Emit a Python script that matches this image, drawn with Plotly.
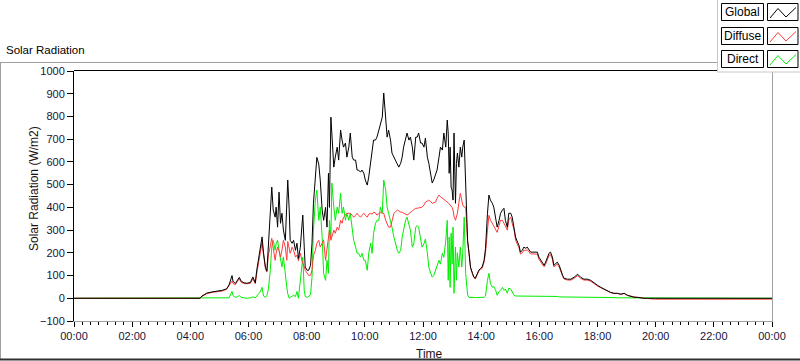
import plotly.graph_objects as go

# ---------------- data ----------------
time_min = [0, 260, 264, 274, 285, 298, 306, 315, 320, 326,
            328, 333, 337, 341, 345, 351, 357, 364, 369, 374,
            377, 381, 384, 388, 391, 395, 398, 401, 405, 408,
            411, 415, 417, 420, 423, 426, 429, 432, 436, 439,
            441, 444, 446, 450, 453, 457, 460, 463, 467, 470,
            472, 475, 477, 481, 484, 488, 491, 494, 498, 501,
            505, 508, 512, 515, 519, 522, 525, 527, 530, 532,
            536, 539, 543, 546, 550, 553, 556, 560, 563, 567,
            570, 574, 577, 581, 584, 587, 591, 594, 598, 601,
            605, 608, 612, 615, 618, 622, 625, 629, 632, 636,
            639, 643, 646, 649, 653, 656, 660, 663, 667, 670,
            674, 677, 680, 684, 687, 691, 694, 698, 701, 705,
            708, 711, 715, 718, 722, 725, 729, 732, 736, 739,
            742, 746, 749, 753, 756, 760, 763, 767, 770, 772,
            774, 776, 778, 780, 782, 784, 787, 789, 791, 794,
            797, 800, 802, 805, 808, 810, 812, 815, 818, 822,
            825, 828, 832, 835, 839, 842, 846, 849, 853, 856,
            859, 863, 866, 870, 873, 877, 880, 884, 887, 890,
            894, 897, 901, 904, 908, 911, 915, 918, 921, 925,
            928, 932, 935, 939, 942, 949, 956, 959, 963, 966,
            970, 973, 977, 980, 983, 987, 990, 994, 997, 1001,
            1004, 1008, 1011, 1018, 1025, 1032, 1039, 1045, 1052, 1059,
            1066, 1073, 1080, 1087, 1094, 1101, 1107, 1114, 1121, 1128,
            1135, 1142, 1149, 1156, 1163, 1176, 1200, 1440]

global_wm2 = [0, 0, 10, 23, 28, 32, 35, 42, 60, 100,
              75, 65, 80, 92, 75, 68, 66, 70, 94, 68,
              123, 180, 226, 270, 200, 135, 120, 220, 343, 489,
              388, 357, 401, 313, 467, 330, 374, 300, 255, 388,
              520, 388, 255, 242, 255, 211, 242, 175, 225, 313,
              366, 225, 137, 123, 123, 145, 242, 418, 564, 620,
              590, 520, 388, 343, 400, 313, 550, 400, 797, 709,
              577, 621, 665, 608, 740, 696, 665, 683, 621, 665,
              727, 621, 608, 608, 564, 564, 555, 564, 550, 520,
              498, 533, 608, 652, 696, 696, 709, 740, 771, 797,
              903, 790, 709, 740, 696, 639, 621, 608, 594, 577,
              594, 621, 665, 709, 727, 696, 709, 665, 608, 709,
              709, 727, 683, 683, 665, 705, 621, 594, 533, 507,
              520, 550, 564, 621, 665, 652, 727, 665, 784, 727,
              550, 665, 489, 476, 432, 727, 418, 594, 639, 577,
              665, 621, 665, 696, 476, 374, 255, 198, 137, 110,
              93, 88, 110, 123, 132, 137, 167, 220, 374, 454,
              432, 418, 401, 343, 313, 343, 374, 388, 396, 343,
              313, 374, 374, 357, 313, 269, 247, 233, 203, 211,
              225, 220, 225, 211, 203, 203, 203, 181, 167, 154,
              145, 159, 181, 198, 203, 181, 145, 154, 159, 145,
              123, 101, 88, 84, 84, 93, 106, 93, 84, 84,
              79, 66, 57, 48, 40, 35, 26, 22, 22, 18,
              22, 13, 9, 4, 4, 0, 0, 0]

diffuse_wm2 = [0, 0, 8, 20, 26, 30, 32, 40, 55, 76,
               65, 60, 74, 86, 70, 65, 64, 66, 86, 64,
               110, 160, 200, 245, 190, 130, 115, 190, 230, 264,
               220, 167, 198, 225, 210, 181, 211, 255, 225, 167,
               250, 225, 198, 225, 211, 181, 190, 165, 198, 167,
               150, 137, 123, 110, 101, 101, 123, 189, 211, 242,
               255, 225, 242, 255, 167, 225, 286, 300, 255, 269,
               300, 286, 313, 300, 343, 330, 357, 365, 374, 374,
               374, 365, 357, 365, 374, 365, 357, 365, 374, 365,
               357, 370, 374, 370, 379, 375, 366, 372, 379, 374,
               374, 343, 330, 313, 313, 343, 374, 380, 388, 385,
               379, 379, 374, 370, 366, 372, 379, 385, 390, 396,
               396, 398, 401, 401, 410, 423, 428, 432, 425, 418,
               420, 423, 440, 454, 447, 440, 435, 432, 425, 420,
               415, 410, 405, 400, 388, 360, 343, 360, 374, 420,
               462, 432, 410, 401, 401, 330, 250, 196, 135, 108,
               91, 86, 105, 118, 128, 132, 160, 200, 300, 365,
               345, 330, 320, 300, 290, 320, 343, 343, 330, 310,
               300, 345, 357, 330, 300, 255, 235, 222, 195, 200,
               212, 210, 214, 202, 195, 195, 194, 172, 158, 146,
               138, 150, 170, 188, 192, 172, 138, 146, 150, 138,
               118, 97, 85, 80, 80, 88, 100, 88, 80, 80,
               75, 63, 54, 46, 38, 33, 25, 21, 21, 17,
               21, 12, 9, 4, 4, 0, -4, -4]

direct_wm2 = [0, 0, 0, 0, 0, 0, 0, 0, 2, 30,
              12, 4, 6, 12, 4, 2, 0, 2, 6, 2,
              8, 20, 28, 48, 10, 4, 13, 40, 123, 226,
              255, 211, 240, 255, 210, 167, 138, 182, 90, 50,
              20, 0, 4, 10, 13, 8, 30, 0, 80, 137,
              180, 35, 8, 4, 10, 15, 93, 300, 432, 476,
              343, 401, 269, 110, 79, 167, 110, 343, 269, 507,
              401, 343, 401, 374, 462, 374, 401, 343, 374, 343,
              374, 313, 255, 225, 198, 198, 181, 198, 167, 167,
              123, 198, 242, 198, 286, 330, 343, 343, 401, 374,
              520, 476, 401, 374, 343, 313, 269, 242, 211, 198,
              211, 269, 300, 343, 357, 330, 300, 225, 240, 313,
              320, 313, 269, 225, 240, 260, 198, 137, 110, 93,
              100, 123, 140, 167, 150, 198, 180, 255, 343, 79,
              269, 48, 286, 150, 313, 22, 225, 79, 200, 137,
              225, 137, 200, 357, 110, 35, 15, 4, 3, 3,
              3, 3, 4, 4, 4, 4, 4, 10, 79, 110,
              66, 48, 52, 35, 13, 30, 35, 48, 35, 40,
              22, 45, 40, 30, 13, 10, 10, 10, 10, 10,
              10, 10, 10, 10, 10, 10, 10, 10, 10, 10,
              10, 10, 10, 10, 8, 8, 8, 8, 8, 6,
              6, 6, 6, 6, 6, 6, 6, 6, 6, 5,
              5, 4, 4, 3, 3, 3, 3, 3, 2, 2,
              2, 2, 2, 2, 2, 1, 0, 0]

x_tick_vals = [0, 120, 240, 360, 480, 600, 720, 840, 960, 1080, 1200, 1320, 1440]
x_tick_text = ["00:00", "02:00", "04:00", "06:00", "08:00", "10:00", "12:00",
               "14:00", "16:00", "18:00", "20:00", "22:00", "00:00"]
y_tick_vals = [-100, 0, 100, 200, 300, 400, 500, 600, 700, 800, 900, 1000]

series_names = ["Global", "Diffuse", "Direct"]
series_colors = ["#000000", "#ff3b3b", "#00ee00"]

chart_title = "Solar Radiation"
y_title = "Solar Radiation (W/m2)"
x_title = "Time"

# ---------------- figure ----------------
W, H = 800, 361
L, R, T, B = 74, 28, 71, 40
PW, PH = W - L - R, H - T - B


def px(x):
    return (x - L) / PW


def py(y):
    return (H - B - y) / PH


FONT = "Liberation Sans, Arial, sans-serif"
TXT = "#15153a"

fig = go.Figure()
series_values = {"Global": global_wm2, "Diffuse": diffuse_wm2, "Direct": direct_wm2}
for name in ["Direct", "Diffuse", "Global"]:
    color = series_colors[series_names.index(name)]
    fig.add_trace(go.Scatter(x=time_min, y=series_values[name], mode="lines", name=name,
                             line=dict(color=color, width=1), showlegend=False,
                             hoverinfo="skip"))

fig.update_layout(
    width=W, height=H,
    margin=dict(l=L, r=R, t=T, b=B, pad=0),
    paper_bgcolor="white", plot_bgcolor="white",
    font=dict(family=FONT, size=11, color=TXT),
    showlegend=False,
)
fig.update_xaxes(
    range=[0, 1440], tickmode="array", tickvals=x_tick_vals, ticktext=x_tick_text,
    ticks="outside", ticklen=5, tickcolor="#000000", tickwidth=1,
    showgrid=False, zeroline=False, showline=True, linecolor="#a0a0a0", linewidth=1,
    tickfont=dict(family=FONT, size=11, color=TXT),
    minor=dict(tickmode="linear", tick0=0, dtick=120 / 7, ticks="outside",
               ticklen=3, tickcolor="#000000", tickwidth=1, showgrid=False),
)
fig.update_yaxes(
    range=[-100, 1000], tickmode="array", tickvals=y_tick_vals,
    ticks="outside", ticklen=6, tickcolor="#000000", tickwidth=1,
    showgrid=False, zeroline=False, showline=True, linecolor="#000000", linewidth=1,
    tickfont=dict(family=FONT, size=11, color=TXT),
)

shapes = []


def hline(x0, x1, y, color, width=1, layer="above"):
    shapes.append(dict(type="line", xref="paper", yref="paper", x0=px(x0), x1=px(x1),
                       y0=py(y), y1=py(y), line=dict(color=color, width=width), layer=layer))


def vline(x, y0, y1, color, width=1, layer="above"):
    shapes.append(dict(type="line", xref="paper", yref="paper", x0=px(x), x1=px(x),
                       y0=py(y0), y1=py(y1), line=dict(color=color, width=width), layer=layer))


# outer frame
hline(0, 717, 62.5, "#a0a0a0")
vline(0.5, 62, 360, "#a0a0a0")
hline(0, 800, 359.5, "#303030", 2)
# plot frame (top black, right gray)
hline(74, 717, 70.5, "#000000")
vline(772.5, 71, 322, "#a0a0a0")

# legend panel
shapes.append(dict(type="rect", xref="paper", yref="paper", x0=px(717), x1=px(800),
                   y0=py(72), y1=py(0), fillcolor="white", line=dict(width=0), layer="above"))
vline(717.5, 0, 72, "#c8c8c8")
hline(717, 800, 72, "#c8c8c8")

annotations = []
row_tops = [3.5, 27.5, 50.5]
for i, name in enumerate(series_names):
    top = row_tops[i]
    bot = top + 17
    shapes.append(dict(type="rect", xref="paper", yref="paper", x0=px(721.5), x1=px(763.5),
                       y0=py(bot), y1=py(top), fillcolor="white",
                       line=dict(color="#000000", width=1), layer="above"))
    shapes.append(dict(type="rect", xref="paper", yref="paper", x0=px(767.5), x1=px(798),
                       y0=py(bot), y1=py(top), fillcolor="white",
                       line=dict(color="#000000", width=1), layer="above"))
    pts = [(770, bot - 2.5), (778, top + 5), (786, bot - 3.5), (796, top + 4)]
    path = "M " + " L ".join(f"{px(a):.5f},{py(b):.5f}" for a, b in pts)
    shapes.append(dict(type="path", xref="paper", yref="paper", path=path,
                       line=dict(color=series_colors[i], width=1), layer="above"))
    annotations.append(dict(text=name, xref="paper", yref="paper", x=px(742.5),
                            y=py((top + bot) / 2), xanchor="center", yanchor="middle",
                            showarrow=False, font=dict(family=FONT, size=12, color="#000000")))

annotations.append(dict(text=chart_title, xref="paper", yref="paper", x=px(4), y=py(50.5),
                        xanchor="left", yanchor="middle", showarrow=False,
                        font=dict(family=FONT, size=11.5, color="#000000")))
annotations.append(dict(text=y_title, xref="paper", yref="paper", x=px(34), y=py(189),
                        xanchor="center", yanchor="middle", textangle=-90, showarrow=False,
                        font=dict(family=FONT, size=12, color="#1a1010")))
annotations.append(dict(text=x_title, xref="paper", yref="paper", x=px(429), y=py(354),
                        xanchor="center", yanchor="middle", showarrow=False,
                        font=dict(family=FONT, size=12, color="#1a1010")))

fig.update_layout(shapes=shapes, annotations=annotations)
fig.write_html("out.html", config={"displayModeBar": False},
               post_script="document.body.style.margin='0';document.body.style.overflow='hidden';")
